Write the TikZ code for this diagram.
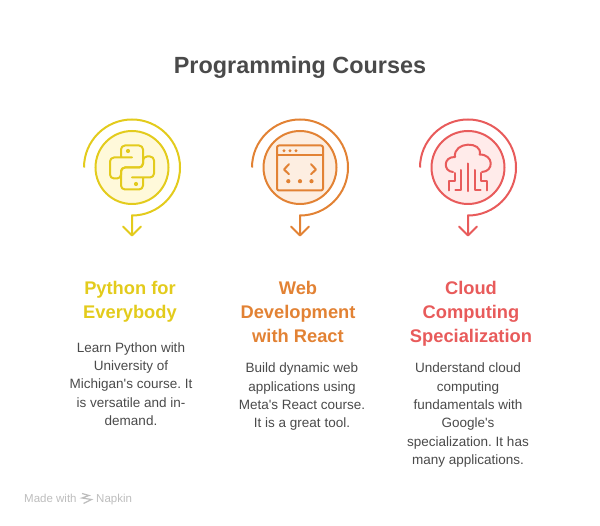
\documentclass[tikz,border=0pt]{standalone}
\usepackage{fontspec}
\setmainfont{Liberation Sans}
\usetikzlibrary{arrows.meta}

\definecolor{pyyellow}{HTML}{E3CB1C}
\definecolor{pyfill}{HTML}{FFF9DA}
\definecolor{weborange}{HTML}{E28234}
\definecolor{webfill}{HTML}{FDEEE1}
\definecolor{cloudred}{HTML}{E85B5B}
\definecolor{cloudfill}{HTML}{FFEBEA}
\definecolor{bodygray}{HTML}{4A4A4A}
\definecolor{markgray}{HTML}{BDBDBD}

\tikzset{
    title/.style={font=\fontsize{23.4}{28}\selectfont\bfseries, text=bodygray},
    head/.style={font=\fontsize{18.3}{24}\selectfont\bfseries, align=center, anchor=north},
    body/.style={font=\fontsize{13.5}{18.3}\selectfont\frenchspacing, text=bodygray, align=center, anchor=north},
    disc/.style={circle, draw, line width=2pt, minimum size=73pt, inner sep=0pt},
    swirl/.style={line width=2pt, -{Straight Barb[length=9pt,width=18pt,round]}},
    icon/.style={line width=2pt, line cap=round, line join=round},
    madewith/.style={font=\fontsize{11.5}{14}\selectfont, text=markgray}
}

\begin{document}
\begin{tikzpicture}[x=1pt,y=-1pt]
    \useasboundingbox (0,0) rectangle (600,526);

    \node[title] (T) at (300,67.5) {Programming Courses};

    % Кружки
    \node[disc, draw=pyyellow, fill=pyfill] (C1) at (132,167.5) {};
    \node[disc, draw=weborange, fill=webfill] (C2) at (300,167.5) {};
    \node[disc, draw=cloudred, fill=cloudfill] (C3) at (468,167.5) {};

    % Концы стрелок
    \coordinate (S1) at (84,167.5);
    \coordinate (S2) at (252,167.5);
    \coordinate (S3) at (420,167.5);
    \coordinate (E1) at (132,236.5);
    \coordinate (E2) at (300,236.5);
    \coordinate (E3) at (468,236.5);

    % Стрелки
    \draw[swirl, pyyellow] (S1) arc (-180:90:48) -- (E1);
    \draw[swirl, weborange] (S2) arc (-180:90:48) -- (E2);
    \draw[swirl, cloudred] (S3) arc (-180:90:48) -- (E3);

    % Питон
    \begin{scope}[shift={(C1)}, icon, pyyellow]
        \draw[rounded corners=4pt] (0,-10) -- (-22,-10) -- (-22,11) -- (-11,11) -- (-11,0) -- (11,0) -- (11,-22) -- (-11,-22) -- (-11,-10);
        \draw[rounded corners=4pt] (0,10) -- (22,10) -- (22,-11) -- (11,-11) -- (11,0) -- (-11,0) -- (-11,22) -- (11,22) -- (11,10);
        \fill (-4,-16.5) circle (2.1);
        \fill (4,16.5) circle (2.1);
    \end{scope}

    % Окно
    \begin{scope}[shift={(C2)}, icon, weborange]
        \draw[rounded corners=2pt] (-23,-22) rectangle (23,23);
        \draw (-23,-12.3) -- (23,-12.3);
        \draw (-11,-3.3) -- (-16,2) -- (-11,6.7);
        \draw (11,-3.3) -- (16,2) -- (11,6.7);
        \fill (-16,-16.7) circle (1.7);
        \fill (-10,-16.7) circle (1.7);
        \fill (-4,-16.7) circle (1.7);
        \fill (-11.7,13.7) circle (2.1);
        \fill (0,13.7) circle (2.1);
        \fill (11.5,13.7) circle (2.1);
    \end{scope}

    % Облако
    \begin{scope}[shift={(C3)}, icon, cloudred]
        \draw (-15,4.5) .. controls (-25,4) and (-25,-11) .. (-13,-10.5) .. controls (-15,-26.5) and (15,-26.5) .. (11.7,-13) .. controls (26,-13) and (26,4) .. (14,4.5);
        \draw (0,-4) -- (0,23.7);
        \draw (-19,23) -- (-19,14) -- (-13,14) -- (-13,5.5);
        \draw (-12.7,23) -- (-6.7,23) -- (-6.7,2.5);
        \draw (19,23) -- (19,14) -- (13,14) -- (13,5.5);
        \draw (12.7,23) -- (6.7,23) -- (6.7,2.5);
    \end{scope}

    % Заголовки
    \node[head, text=pyyellow] (H1) at (130,278) {Python for\\Everybody};
    \node[head, text=weborange] (H2) at (298,278) {Web\\Development\\with React};
    \node[head, text=cloudred] (H3) at (471,278) {Cloud\\Computing\\Specialization};

    % Текст
    \node[body] (B1) at (131,339) {Learn Python with\\University of\\Michigan\textquotesingle s course. It\\is versatile and in-\\demand.};
    \node[body] (B2) at (302,359.5) {Build dynamic web\\applications using\\Meta\textquotesingle s React course.\\It is a great tool.};
    \node[body] (B3) at (468,359.5) {Understand cloud\\computing\\fundamentals with\\Google\textquotesingle s\\specialization. It has\\many applications.};

    % Подпись
    \node[madewith, anchor=base west, inner sep=0pt] (M1) at (24,502) {Made with};
    \node[madewith, anchor=base west, inner sep=0pt] (M2) at (96,502) {Napkin};
    \coordinate (N) at (86.5,498.5);
    \draw[markgray, line width=1.2pt] (N) ++(-4.5,-5) -- ++(7,2) -- ++(-7,2.5) -- ++(9.5,1.5) -- ++(-8,4);
\end{tikzpicture}
\end{document}
